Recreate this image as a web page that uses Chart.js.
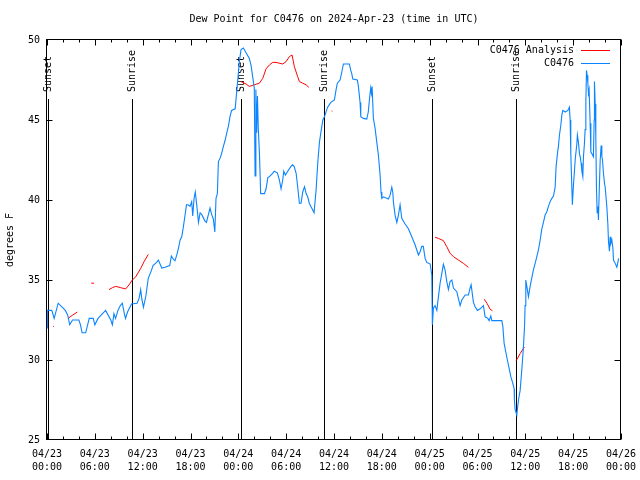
<!DOCTYPE html>
<html>
<head>
<meta charset="utf-8">
<script src="https://cdn.jsdelivr.net/npm/chart.js@4.4.1/dist/chart.umd.min.js"></script>
<style>
  html, body { margin: 0; padding: 0; background: #fff; }
  #wrap { width: 640px; height: 480px; }
</style>
</head>
<body>
<div id="wrap"><canvas id="dew" width="640" height="480"></canvas></div>
<script>
// hours since 04/23 00:00 UTC
const obsHours = [
  0.0, 0.05, 0.6, 0.9, 1.4, 2.3, 2.6, 2.85, 3.2, 4.0, 4.2, 4.4, 4.85, 5.3, 5.8, 6.0, 6.4, 7.35,
  8.0, 8.2, 8.4, 8.6, 8.9, 9.2, 9.45, 9.7, 9.85, 10.1, 10.6, 11.3, 11.55, 11.75, 11.9, 12.1, 12.4,
  12.7, 13.1, 13.3, 13.75, 13.97, 14.4, 14.8, 15.4, 15.6, 15.85, 16.05, 16.3, 16.5, 16.7, 16.9,
  17.1, 17.3, 17.5, 17.7, 17.94, 18.15, 18.28, 18.45, 18.6, 18.78, 19.0, 19.2, 19.4, 19.8, 20.0,
  20.25, 20.45, 20.65, 20.87, 21.05, 21.2, 21.37, 21.5, 21.7, 21.9, 22.1, 22.35, 22.55, 22.75,
  22.95, 23.15, 23.6, 23.8, 24.0, 24.15, 24.34, 24.63, 24.97, 25.38, 25.6, 25.8, 26.0, 26.1,
  26.2, 26.3, 26.4, 26.5, 26.65, 26.8, 27.27, 27.48, 27.7, 27.9, 28.3, 28.5, 28.9, 29.15, 29.36,
  29.57, 29.7, 29.9, 30.2, 30.6, 30.8, 31.0, 31.25, 31.45, 31.66, 31.87, 32.08, 32.3, 32.5, 32.7,
  32.9, 33.1, 33.3, 33.5, 33.75, 33.96, 34.17, 34.38, 34.6, 34.8, 35.2, 35.6, 36.05, 36.26, 36.42,
  36.76, 36.98, 37.18, 37.93, 38.1, 38.23, 38.36, 38.93, 39.06, 39.27, 39.36, 39.69, 40.11, 40.3,
  40.44, 40.6, 40.69, 40.78, 40.94, 41.15, 41.37, 41.57, 41.78, 41.9, 42.0, 42.2, 42.82, 43.04,
  43.25, 43.37, 43.45, 43.66, 43.88, 44.08, 44.29, 44.5, 44.92, 45.33, 45.76, 46.17, 46.59, 46.8,
  47.01, 47.2, 47.43, 47.64, 48.06, 48.27, 48.34, 48.47, 48.68, 48.9, 49.1, 49.31, 49.52, 49.72,
  49.94, 50.15, 50.35, 50.56, 50.78, 50.98, 51.4, 51.6, 51.82, 52.03, 52.45, 52.86, 53.07, 53.2,
  53.49, 53.7, 53.99, 54.33, 54.74, 54.96, 55.3, 55.46, 55.67, 55.8, 57.05, 57.18, 57.34, 57.59,
  57.75, 58.0, 58.18, 58.43, 58.6, 58.63, 58.72, 58.93, 59.0, 59.14, 59.35, 59.56, 59.76, 59.9,
  59.97, 60.06, 60.19, 60.39, 60.6, 60.8, 61.0, 61.23, 61.44, 61.65, 61.86, 62.07, 62.27, 62.48,
  62.7, 62.9, 63.11, 63.32, 63.53, 63.74, 63.86, 64.03, 64.16, 64.28, 64.46, 64.58, 64.7, 65.0,
  65.33, 65.53, 65.62, 65.7, 65.83, 65.9, 66.03, 66.16, 66.25, 66.46, 66.53, 66.66, 66.79, 66.88,
  67.0, 67.09, 67.21, 67.29, 67.41, 67.5, 67.59, 67.67, 67.75, 67.84, 67.92, 68.0, 68.13, 68.22,
  68.34, 68.54, 68.63, 68.67, 68.76, 68.84, 68.92, 69.01, 69.1, 69.17, 69.26, 69.39, 69.51, 69.6,
  69.68, 69.8, 69.93, 70.01, 70.22, 70.35, 70.43, 70.55, 70.64, 70.73, 70.85, 70.98, 71.06, 71.27,
  71.48, 71.6, 71.7
];
const obsDew = [
  32.0, 33.1, 33.1, 32.6, 33.55, 33.1, 32.8, 32.2, 32.5, 32.5, 32.2, 31.7, 31.7, 32.6, 32.6, 32.2, 32.6, 33.1,
  32.5, 32.2, 32.9, 32.6, 33.1, 33.4, 33.55, 32.9, 32.6, 33.0, 33.5, 33.55, 33.85, 34.4, 33.8, 33.3, 34.0,
  35.1, 35.6, 35.9, 36.1, 36.25, 35.75, 35.8, 35.9, 36.5, 36.3, 36.2, 36.6, 37.0, 37.5, 37.7,
  38.3, 39.0, 39.7, 39.7, 39.6, 39.9, 39.0, 40.1, 40.5, 39.7, 38.6, 39.2, 39.1, 38.7, 38.6,
  39.1, 39.5, 39.1, 38.8, 38.0, 40.1, 40.4, 42.4, 42.6, 42.9, 43.3, 43.75, 44.2, 44.6,
  45.2, 45.6, 45.7, 46.8, 47.9, 48.75, 49.4, 49.5, 49.2, 48.85, 48.4, 47.7, 47.0, 41.5,
  46.9, 44.2, 46.5, 44.5, 42.9, 40.4, 40.4, 40.7, 41.4, 41.46, 41.67, 41.8, 41.7, 41.25, 40.7,
  41.25, 41.8, 41.56, 41.8, 42.1, 42.2, 42.1, 41.67, 40.8, 39.8, 39.8, 40.5, 40.83, 40.4, 40.2,
  39.8, 39.6, 39.4, 39.2, 40.6, 42.3, 43.6, 44.3, 45.0, 45.2, 45.8, 46.1, 46.25, 46.9, 47.3,
  47.5, 48.0, 48.5, 48.5, 48.1, 47.9, 47.56, 47.5, 47.1, 46.1, 45.2, 45.1, 45.06, 45.5,
  46.25, 47.0, 46.67, 47.1, 45.1, 44.5, 43.6, 42.8, 41.56, 40.5, 40.1, 40.2, 40.06, 40.3,
  40.8, 40.5, 39.9, 39.06, 38.6, 39.06, 39.7, 38.86, 38.5, 38.2, 37.7, 37.2, 36.56, 36.77,
  37.1, 37.1, 36.35, 36.1, 36.0, 35.3, 32.2, 33.25, 33.4, 33.1, 33.96, 34.8, 35.4, 35.98,
  35.6, 34.9, 34.4, 34.9, 35.0, 34.5, 34.27, 33.85, 33.4, 33.75, 34.06, 34.06, 34.5, 34.7,
  33.6, 33.33, 33.1, 33.2, 33.4, 32.7, 32.6, 32.46, 32.75, 32.46, 32.46, 32.1, 31.04, 30.4,
  30.0, 29.4, 28.96, 28.54, 28.2, 27.5, 26.9, 26.56, 26.9, 27.5, 28.1, 29.4, 30.8, 32.1,
  33.4, 35.0, 34.6, 33.96, 34.6, 35.1, 35.6, 36.04, 36.46, 36.9, 37.5, 38.2, 38.6, 39.06,
  39.27, 39.6, 39.9, 40.1, 40.25, 40.8, 42.1, 42.9, 43.4, 44.06, 44.7, 45.3, 45.6, 45.5,
  45.6, 45.8, 45.0, 43.0, 40.8, 39.7, 40.9, 41.8, 42.5, 43.5, 44.06, 43.6, 42.9, 42.7,
  42.3, 41.8, 41.46, 42.7, 43.5, 44.4, 46.04, 48.1, 47.8, 47.3, 46.67, 46.9, 44.8, 43.0,
  42.9, 42.7, 45.0, 47.4, 46.0, 43.96, 40.8, 39.2, 39.6, 38.75, 40.4, 42.5, 43.4, 42.7,
  42.5, 41.67, 41.04, 40.83, 39.6, 38.5, 37.4, 36.8, 37.7, 37.3, 37.5, 37.0, 36.25, 36.04,
  35.8, 36.08, 36.35
];

// analysis series, null = gap
const anaHours = [
  0.75, 0.85, null,
  2.63, 3.2, 3.8, null,
  5.56, 5.9, null,
  7.78, 8.2, 8.62, 9.25, 9.87, 10.29, 10.7, 11.13, 11.76, 12.17, 12.7, null,
  24.34, 24.97, 25.38, 26.0, 26.64, 27.06, 27.48, 27.9, 28.32, 28.73, 29.57, 29.99, 30.4, 30.74,
  31.03, 31.45, 31.66, 32.08, 32.5, 32.84, null,
  35.7, 35.8, null,
  48.68, 49.1, 49.72, 50.15, 50.56, 50.98, 51.6, 52.24, 52.86, null,
  54.83, 55.2, 55.58, 55.87, null,
  58.85, 59.35, 59.76, 59.9
];
const anaDew = [
  32.1, 32.1, null,
  32.6, 32.8, 33.0, null,
  34.8, 34.8, null,
  34.4, 34.52, 34.6, 34.52, 34.44, 34.7, 35.0, 35.2, 35.73, 36.14, 36.6, null,
  47.4, 47.25, 47.1, 47.2, 47.3, 47.6, 48.2, 48.44, 48.6, 48.6, 48.5, 48.65, 48.96, 49.06,
  48.33, 47.7, 47.4, 47.3, 47.2, 47.04, null,
  45.56, 45.56, null,
  37.67, 37.6, 37.46, 37.08, 36.67, 36.46, 36.25, 36.04, 35.79, null,
  33.8, 33.54, 33.17, 33.08, null,
  29.96, 30.4, 30.73, 30.8
];

const sunHours = [0.1, 10.7, 24.3, 34.8, 48.35, 58.8];
const sunLabels = ["Sunset", "Sunrise", "Sunset", "Sunrise", "Sunset", "Sunrise"];

const xTickDates = ["04/23", "04/23", "04/23", "04/23", "04/24", "04/24", "04/24", "04/24",
  "04/25", "04/25", "04/25", "04/25", "04/26"];
const xTickTimes = ["00:00", "06:00", "12:00", "18:00", "00:00", "06:00", "12:00", "18:00",
  "00:00", "06:00", "12:00", "18:00", "00:00"];

const FONT = "'DejaVu Sans Mono', 'Liberation Mono', monospace";
const BLUE = "#0a84ff";
const RED = "#ff0000";

const toPoints = (xs, ys) => xs.map((h, i) => ({ x: h, y: ys[i] }));

// gnuplot style frame: border, inward ticks, sunrise/sunset marks, legend, title
const gnuFrame = {
  id: "gnuFrame",
  beforeDatasetsDraw(chart) {
    const { ctx, chartArea: a, scales: { x } } = chart;
    ctx.save();
    ctx.strokeStyle = "#000";
    ctx.lineWidth = 1;
    ctx.fillStyle = "#000";
    ctx.font = "10px " + FONT;
    sunHours.forEach((h, i) => {
      const px = Math.round(x.getPixelForValue(h)) + 0.5;
      ctx.beginPath();
      ctx.moveTo(px, 99);
      ctx.lineTo(px, a.bottom);
      ctx.stroke();
      ctx.save();
      ctx.translate(px, 92);
      ctx.rotate(-Math.PI / 2);
      ctx.textAlign = "left";
      ctx.textBaseline = "middle";
      ctx.fillText(sunLabels[i], 0, 0);
      ctx.restore();
    });
    ctx.restore();
  },
  afterDraw(chart) {
    const { ctx, chartArea: a, scales: { x, y } } = chart;
    ctx.save();
    ctx.strokeStyle = "#000";
    ctx.lineWidth = 1;
    const L = Math.round(a.left) - 0.5, R = Math.round(a.right) - 0.5;
    const T = Math.round(a.top) - 0.5, B = Math.round(a.bottom) - 0.5;
    ctx.strokeRect(L, T, R - L, B - T);

    ctx.beginPath();
    for (let h = 0; h <= 72; h += 2) {
      const px = Math.round(x.getPixelForValue(h)) + 0.5;
      const len = h % 6 === 0 ? 6 : 3;
      ctx.moveTo(px, B); ctx.lineTo(px, B - len);
      ctx.moveTo(px, T); ctx.lineTo(px, T + len);
    }
    for (let v = 30; v < 50; v += 5) {
      const py = Math.round(y.getPixelForValue(v)) + 0.5;
      ctx.moveTo(L, py); ctx.lineTo(L + 6, py);
      ctx.moveTo(R, py); ctx.lineTo(R - 6, py);
    }
    ctx.stroke();

    ctx.fillStyle = "#000";
    ctx.font = "10px " + FONT;
    ctx.textAlign = "center";
    ctx.textBaseline = "middle";
    ctx.fillText("Dew Point for C0476 on 2024-Apr-23 (time in UTC)", (a.left + a.right) / 2, 19);

    const legend = [["C0476 Analysis", RED, 50], ["C0476", BLUE, 63]];
    ctx.textAlign = "right";
    legend.forEach(([label, col, ly]) => {
      ctx.fillStyle = "#000";
      ctx.fillText(label, 574, ly);
      ctx.strokeStyle = col;
      ctx.beginPath();
      ctx.moveTo(581, ly + 0.5);
      ctx.lineTo(610, ly + 0.5);
      ctx.stroke();
    });
    ctx.restore();
  }
};

new Chart(document.getElementById("dew"), {
  type: "line",
  data: {
    datasets: [
      {
        label: "C0476 Analysis",
        data: toPoints(anaHours, anaDew),
        borderColor: RED,
        borderWidth: 1,
        pointRadius: 0,
        tension: 0,
        spanGaps: false,
        order: 1
      },
      {
        label: "C0476",
        data: toPoints(obsHours, obsDew),
        borderColor: BLUE,
        borderWidth: 1.1,
        pointRadius: 0,
        tension: 0,
        order: 0
      }
    ]
  },
  options: {
    responsive: false,
    animation: false,
    devicePixelRatio: 1,
    layout: { padding: { top: 40, right: 19, left: 0, bottom: 0 } },
    plugins: {
      legend: { display: false },
      title: { display: false },
      tooltip: { enabled: false }
    },
    scales: {
      x: {
        type: "linear",
        min: 0,
        max: 72,
        grid: { display: false, drawTicks: false },
        border: { display: false },
        afterFit: (s) => {
          s.height = 40;
          s.paddingLeft = 0;
          s.paddingRight = 0;
        },
        afterBuildTicks: (s) => {
          s.ticks = xTickDates.map((d, i) => ({ value: i * 6 }));
        },
        ticks: {
          autoSkip: false,
          maxRotation: 0,
          padding: 8,
          color: "#000",
          font: { family: FONT, size: 10, lineHeight: 1.3 },
          callback: (v, i) => [xTickDates[i], xTickTimes[i]]
        }
      },
      y: {
        min: 25,
        max: 50,
        grid: { display: false, drawTicks: false },
        border: { display: false },
        afterFit: (s) => {
          s.width = 47;
          s.paddingTop = 0;
          s.paddingBottom = 0;
        },
        ticks: {
          stepSize: 5,
          padding: 7,
          color: "#000",
          font: { family: FONT, size: 10 }
        },
        title: {
          display: true,
          text: "degrees F",
          color: "#000",
          padding: { top: 4, bottom: 0 },
          font: { family: FONT, size: 10 }
        }
      }
    }
  },
  plugins: [gnuFrame]
});
</script>
</body>
</html>
